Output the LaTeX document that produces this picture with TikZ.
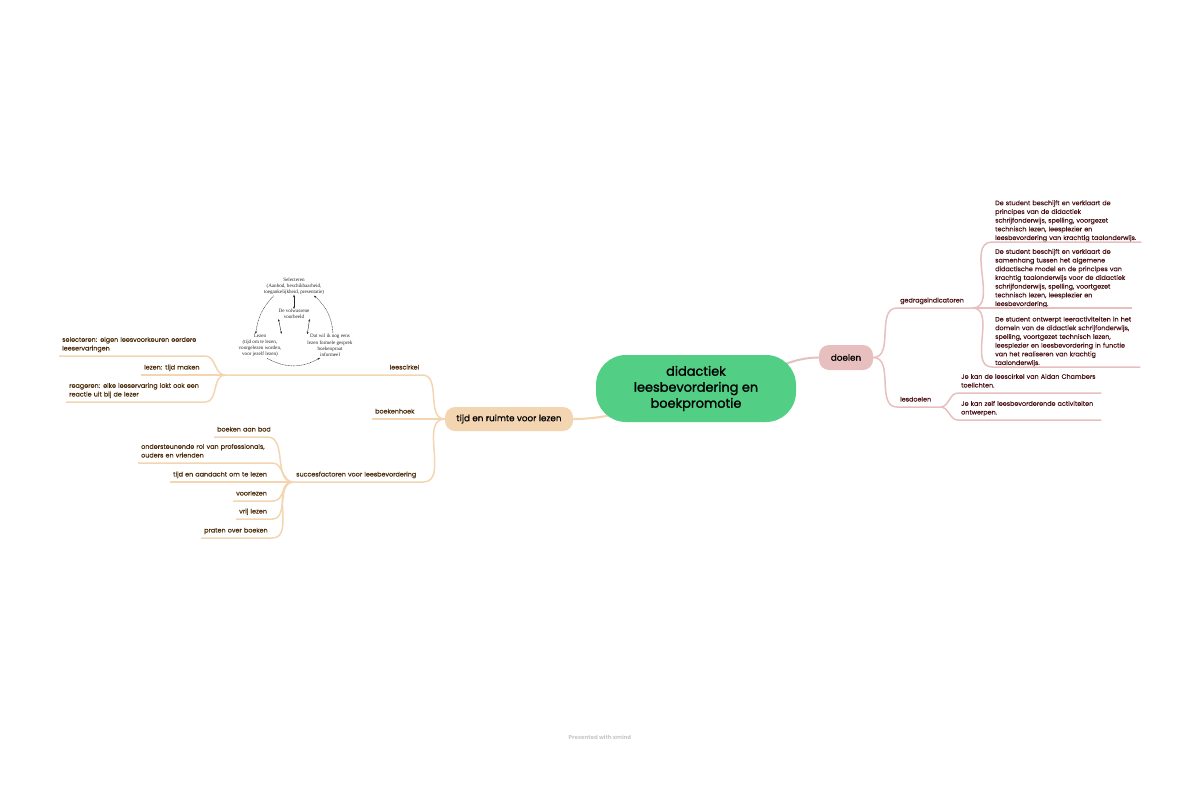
\documentclass[tikz,border=0pt]{standalone}
\usepackage{fontspec}
\usepackage{xcolor}
\setmainfont{Poppins}
\newfontfamily\scanfont{Liberation Serif}
\newfontfamily\leaffont[FakeBold=0.2]{Poppins}
\newfontfamily\topicfont[FakeBold=0.7]{Poppins}
\newfontfamily\rootfont[FakeBold=1.5]{Poppins}
\usetikzlibrary{arrows.meta,backgrounds}
\definecolor{rootgreen}{HTML}{52CE85}
\definecolor{rosefill}{HTML}{E6BFBE}
\definecolor{sandfill}{HTML}{F3D5B2}
\definecolor{rosetext}{HTML}{4A0F12}
\definecolor{sandtext}{HTML}{4A2A08}
\tikzset{
  rootnode/.style={fill=rootgreen,rounded corners=30pt,minimum width=200pt,minimum height=67pt,
    align=center,inner sep=0pt,font=\fontsize{12.9}{16}\selectfont\rootfont},
  topicnode/.style={rounded corners=10pt,minimum height=25pt,inner sep=0pt,
    font=\fontsize{8.8}{10}\selectfont\topicfont},
  leaf/.style={anchor=south west,align=left,inner xsep=3pt,inner ysep=2.7pt,
    text width=#1-6pt,font=\fontsize{6.4}{8.7}\selectfont\leaffont,execute at end node=\strut},
  roseleaf/.style={leaf=#1,text=rosetext},
  sandleaf/.style={leaf=#1,text=sandtext},
  tightleaf/.style={inner ysep=-0.8pt},
  roseline/.style={draw=rosefill,line width=1.5pt},
  sandline/.style={draw=sandfill,line width=1.5pt},
  scantext/.style={align=center,inner sep=0pt,text=black!85,font=\fontsize{5.1}{6.2}\selectfont\scanfont},
  scanarrow/.style={black!85,line width=0.4pt,-{Stealth[length=2.5pt,width=2pt]}},
  scanboth/.style={black!85,line width=0.4pt,{Stealth[length=2.5pt,width=2pt]}-{Stealth[length=2.5pt,width=2pt]}},
}
\begin{document}
\begin{tikzpicture}[x=1pt,y=-1pt]
\useasboundingbox (0,0) rectangle (1200,785);

% centre and main topics
\node[rootnode] (root) at (696,388.5) {didactiek\\leesbevordering en\\boekpromotie};
\node[topicnode,fill=rosefill,minimum width=54pt] (doelen) at (846,357.5) {doelen};
\node[topicnode,fill=sandfill,minimum width=128pt,minimum height=24pt] (tijd) at (509,419) {tijd en ruimte voor lezen};

\begin{pgfonlayer}{background}
\draw[roseline,line width=2pt] (root.center) to[out=-14,in=180] (doelen.west);
\draw[sandline,line width=2pt] (root.center) to[out=194,in=0] (tijd.east);
\end{pgfonlayer}

% right side
\node[roseleaf=75pt] (gedrag) at (897,308) {gedragsindicatoren};
\node[roseleaf=43pt] (lesdoelen) at (897,407) {lesdoelen};
\node[roseleaf=149pt,tightleaf] (beschrijft) at (992,242) {De student beschijft en verklaart de\\principes van de didactiek\\schrijfonderwijs, spelling, voorgezet\\technisch lezen, leesplezier en\\leesbevordering van krachtig taalonderwijs.};
\node[roseleaf=140pt,tightleaf] (samenhang) at (992,308) {De student beschijft en verklaart de\\samenhang tussen het algemene\\didactische model en de principes van\\krachtig taalonderwijs voor de didactiek\\schrijfonderwijs, spelling, voortgezet\\technisch lezen, leesplezier en\\leesbevordering.};
\node[roseleaf=148pt,tightleaf] (ontwerpt) at (992,367) {De student ontwerpt leeractiviteiten in het\\domein van de didactiek schrijfonderwijs,\\spelling, voortgezet technisch lezen,\\leesplezier en leesbevordering in functie\\van het realiseren van krachtig\\taalonderwijs.};
\node[roseleaf=143pt] (toelichten) at (958,393) {Je kan de leescirkel van Aidan Chambers\\toelichten.};
\node[roseleaf=143pt] (antwerpen) at (958,420) {Je kan zelf leesbevorderende activiteiten\\ontwerpen.};

\draw[roseline] (doelen.east) to[out=0,in=180] (gedrag.south west) -- (gedrag.south east);
\draw[roseline] (doelen.east) to[out=0,in=180] (lesdoelen.south west) -- (lesdoelen.south east);
\draw[roseline] (gedrag.south east) to[out=0,in=180] (beschrijft.south west) -- (beschrijft.south east);
\draw[roseline] (gedrag.south east) -- (samenhang.south west) -- (samenhang.south east);
\draw[roseline] (gedrag.south east) to[out=0,in=180] (ontwerpt.south west) -- (ontwerpt.south east);
\draw[roseline] (lesdoelen.south east) to[out=0,in=180] (toelichten.south west) -- (toelichten.south east);
\draw[roseline] (lesdoelen.south east) to[out=0,in=180] (antwerpen.south west) -- (antwerpen.south east);

% left side
\node[sandleaf=197pt,align=right] (leescirkel) at (225,375) {leescirkel};
\node[sandleaf=52pt] (boekenhoek) at (372,419) {boekenhoek};
\node[sandleaf=130pt] (succes) at (293,482) {succesfactoren voor leesbevordering};
\node[sandleaf=146pt] (selecteren) at (59,356) {selecteren: eigen leesvoorkeuren eerdere\\leeservaringen};
\node[sandleaf=64pt] (lezen) at (141,375) {lezen: tijd maken};
\node[sandleaf=139pt] (reageren) at (66,402) {reageren: elke leeservaring lokt ook een\\reactie uit bij de lezer};
\node[sandleaf=53pt] (aanbod) at (214,437) {\mbox{boeken aan bod}};
\node[sandleaf=134pt] (steun) at (138,463) {ondersteunende rol van professionals,\\ouders en vrienden};
\node[sandleaf=100pt] (aandacht) at (170,482) {tijd en aandacht om te lezen};
\node[sandleaf=40pt] (voorlezen) at (233,501) {voorlezen};
\node[sandleaf=36pt] (vrij) at (236,519) {vrij lezen};
\node[sandleaf=71pt] (praten) at (201,538) {praten over boeken};

\draw[sandline] (tijd.west) to[out=180,in=0] (leescirkel.south east) -- (leescirkel.south west);
\draw[sandline] (tijd.west) -- (boekenhoek.south west);
\draw[sandline] (tijd.west) to[out=180,in=0] (succes.south east) -- (succes.south west);
\draw[sandline] (leescirkel.south west) to[out=180,in=0] (selecteren.south east) -- (selecteren.south west);
\draw[sandline] (leescirkel.south west) -- (lezen.south west);
\draw[sandline] (leescirkel.south west) to[out=180,in=0] (reageren.south east) -- (reageren.south west);
\draw[sandline] (succes.south west) to[out=180,in=0] (aanbod.south east) -- (aanbod.south west);
\draw[sandline] (succes.south west) to[out=180,in=0] (steun.south east) -- (steun.south west);
\draw[sandline] (succes.south west) -- (aandacht.south west);
\draw[sandline] (succes.south west) to[out=180,in=0] (voorlezen.south east) -- (voorlezen.south west);
\draw[sandline] (succes.south west) to[out=180,in=0] (vrij.south east) -- (vrij.south west);
\draw[sandline] (succes.south west) to[out=180,in=0] (praten.south east) -- (praten.south west);

% scanned reading circle
\node[scantext] (kiezen) at (294,286) {Selecteren\\(Aanbod, beschikbaarheid,\\toegankelijkheid, presentatie)};
\node[scantext] (volwassene) at (294,314) {De volwassene\\voorbeeld};
\node[scantext] (lezencirkel) at (260,345.5) {Lezen\\(tijd om te lezen,\\voorgelezen worden,\\voor jezelf lezen)};
\node[scantext] (reactie) at (330,345.5) {Dat wil ik nog eens\\lezen formele gesprek\\boekenpraat\\informeel};

\draw[scanarrow,dash pattern=on 1pt off 0.6pt] (kiezen.south west) ++(10,1) to[bend right=18] (lezencirkel.110);
\draw[scanboth] (kiezen.south) -- (volwassene.north);
\draw[scanboth] (volwassene.south west) -- (lezencirkel.north east);
\draw[scanboth] (volwassene.south east) -- (reactie.north west);
\draw[scanarrow,dash pattern=on 1pt off 0.6pt] (reactie.north) ++(3,-1) to[bend right=22] ([shift={(20,1)}]kiezen.south);
\draw[scanarrow,dash pattern=on 1pt off 0.6pt] (lezencirkel.south) ++(7,1) to[bend right=30] ([shift={(-10,1)}]reactie.south);

% footer
\node[inner sep=0pt,text=black!22,font=\fontsize{5.6}{7}\selectfont\bfseries] (xmind) at (600,737) {Presented with xmind};
\end{tikzpicture}
\end{document}
